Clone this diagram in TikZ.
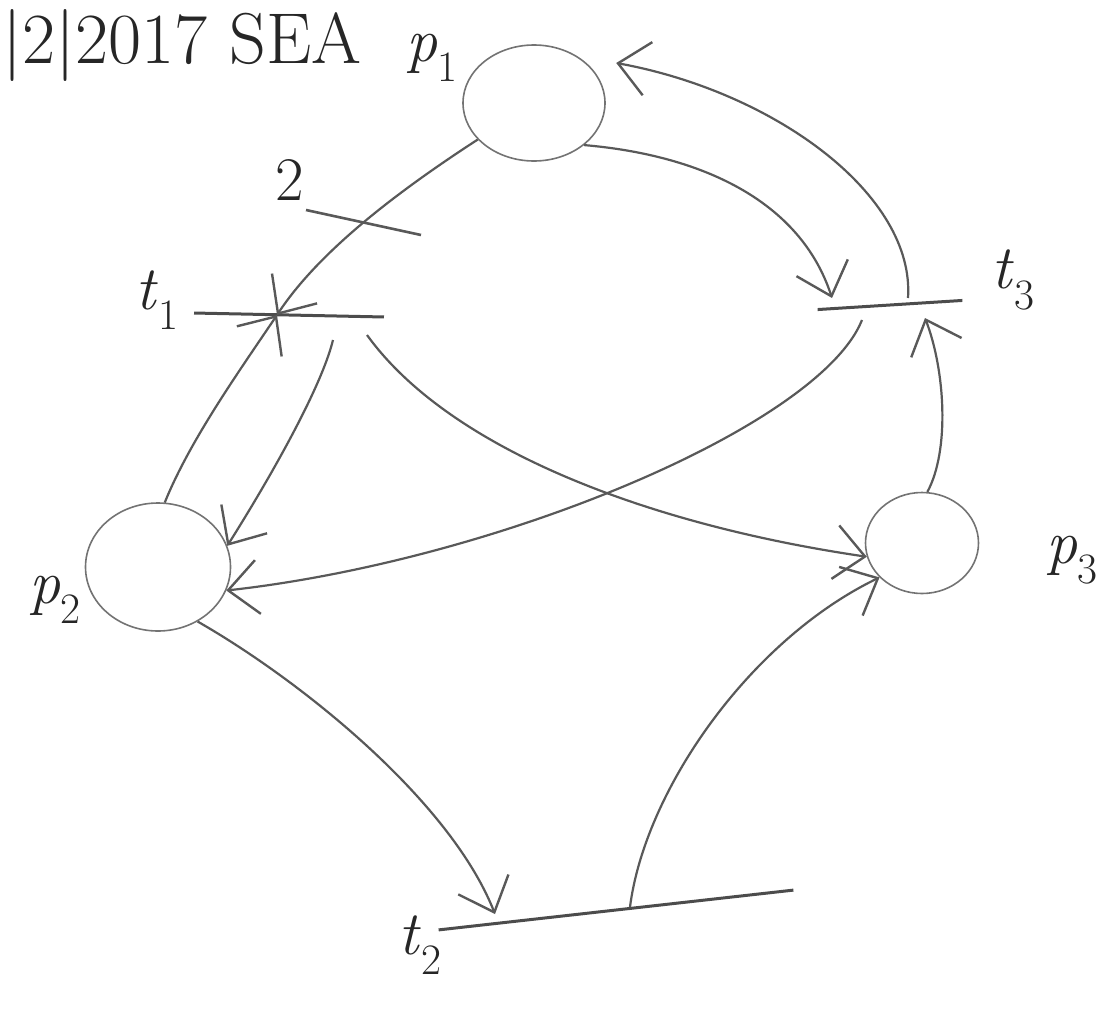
\documentclass[tikz,border=0pt]{standalone}
\usepackage{fontspec}
\usetikzlibrary{shapes.geometric,arrows.meta}
\newcommand{\lab}[2]{\textit{#1}\textsubscript{#2}}
\begin{document}
\begin{tikzpicture}[x=1pt,y=-1pt,
  place/.style={ellipse,draw=black!55,line width=1.6pt,inner sep=0pt},
  trans/.style={rectangle,fill=black!70,inner sep=0pt,minimum height=3pt},
  arc/.style={draw=black!65,line width=2.2pt,-{Straight Barb[length=30pt,width=54pt,line width=2.4pt]}},
  plain/.style={draw=black!65,line width=2.6pt},
  lbl/.style={text=black!85,font=\fontsize{62}{62}\selectfont,inner sep=0pt}]
\useasboundingbox (0,0) rectangle (1116,1009);

% header
\node[lbl,anchor=west,font=\fontsize{72}{72}\selectfont] (hdr) at (2,45) {|2|2017 SEA};

% places
\node[place,minimum width=142pt,minimum height=116pt] (p1) at (534,103) {};
\node[place,minimum width=145pt,minimum height=128pt] (p2) at (158,567) {};
\node[place,minimum width=113pt,minimum height=101pt] (p3) at (922,543) {};

% transitions
\node[trans,minimum width=190pt,rotate=-1.2] (t1) at (289,315) {};
\node[trans,minimum width=145pt,rotate=3.6] (t3) at (890,305) {};
\node[trans,minimum width=357pt,rotate=6.4] (t2) at (616,910) {};

% labels
\node[lbl] (lp1) at (432,58) {\lab{p}{1}};
\node[lbl] (lt1) at (157,300) {\lab{t}{1}};
\node[lbl] (lt3) at (1013,280) {\lab{t}{3}};
\node[lbl] (lp2) at (55,600) {\lab{p}{2}};
\node[lbl] (lp3) at (1072,560) {\lab{p}{3}};
\node[lbl] (lt2) at (420,945) {\lab{t}{2}};
\node[lbl] (w2) at (290,180) {2};

% weight tick
\coordinate (d1) at (306,210);
\coordinate (d2) at (421,235);
\draw[plain] (d1) -- (d2);

% arcs
\draw[arc] (p1.213) .. controls (400,190) and (320,250) .. ([xshift=-12pt]t1.center);
\draw[arc] (p1.320) .. controls (700,155) and (800,200) .. ([shift={(-58,-7)}]t3.center);
\draw[arc] ([shift={(18,-7)}]t3.center) .. controls (915,195) and (775,92) .. ([shift={(22,-8)}]p1.28);
\draw[arc] (p2.84) .. controls (190,440) and (240,370) .. ([xshift=-12pt]t1.center);
\draw[arc] ([shift={(44,25)}]t1.center) .. controls (322,385) and (275,470) .. (p2.17);
\draw[arc] ([shift={(78,20)}]t1.center) .. controls (450,450) and (650,525) .. (p3.194);
\draw[arc] ([shift={(-28,15)}]t3.center) .. controls (820,425) and (500,560) .. (p2.341);
\draw[arc] (p3.84) .. controls (950,450) and (945,370) .. ([shift={(35,13)}]t3.center);
\draw[arc] (p2.306) .. controls (300,680) and (450,800) .. ([shift={(-121,4)}]t2.center);
\draw[arc] ([shift={(14,-3)}]t2.center) .. controls (645,790) and (750,640) .. (p3.219);
\end{tikzpicture}
\end{document}
